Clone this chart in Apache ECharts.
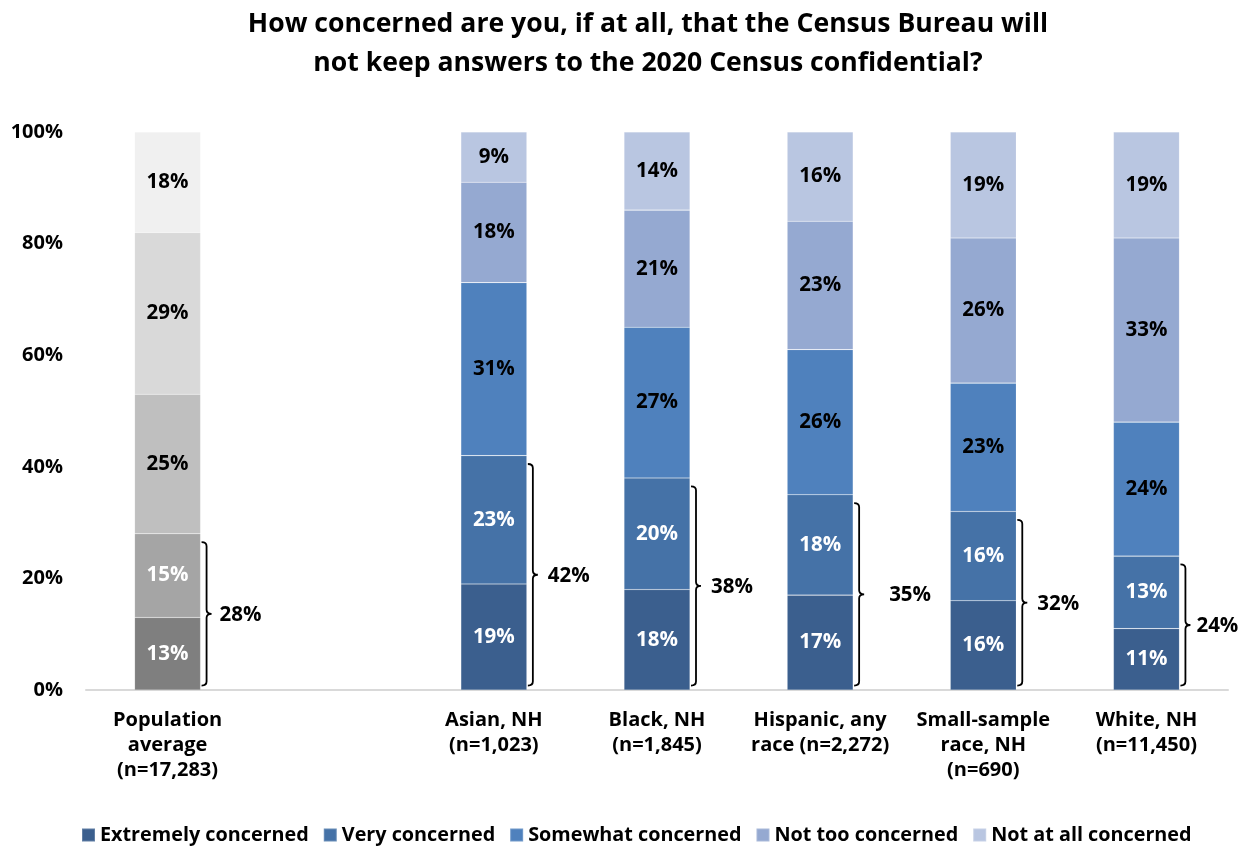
<!DOCTYPE html>
<html>
<head>
<meta charset="utf-8">
<script src="https://cdn.jsdelivr.net/npm/echarts@6/dist/echarts.min.js"></script>
<style>
html,body{margin:0;padding:0;background:#fff;}
#chart{width:1248px;height:848px;}
</style>
</head>
<body>
<div id="chart"></div>
<script>
const categories = ['Population\naverage\n(n=17,283)', '', 'Asian, NH\n(n=1,023)', 'Black, NH\n(n=1,845)', 'Hispanic, any\nrace (n=2,272)', 'Small-sample\nrace, NH\n(n=690)', 'White, NH\n(n=11,450)'];
const seriesNames = ['Extremely concerned', 'Very concerned', 'Somewhat concerned', 'Not too concerned', 'Not at all concerned'];
const extremely = [13, null, 19, 18, 17, 16, 11];
const very      = [15, null, 23, 20, 18, 16, 13];
const somewhat  = [25, null, 31, 27, 26, 23, 24];
const notToo    = [29, null, 18, 21, 23, 26, 33];
const notAtAll  = [18, null, 9, 14, 16, 19, 19];
const concernedTotals = [28, null, 42, 38, 35, 32, 24];
const yTicks = [0, 20, 40, 60, 80, 100];

const FONT = '"Open Sans"';
const blueColors = ['#3b5f8e', '#4572a7', '#4f81bd', '#95a9d1', '#b9c6e1'];
const greyColors = ['#7f7f7f', '#a5a5a5', '#bfbfbf', '#d9d9d9', '#f0f0f0'];
const labelColors = ['#ffffff', '#ffffff', '#000000', '#000000', '#000000'];
const bracketLabelGap = [13, 0, 15, 15, 30, 15, 11];

const values = [extremely, very, somewhat, notToo, notAtAll];

const barSeries = values.map((arr, si) => ({
  name: seriesNames[si],
  type: 'bar',
  stack: 'total',
  barWidth: 66,
  itemStyle: { color: blueColors[si], borderColor: 'rgba(255,255,255,0.2)', borderWidth: 0.6 },
  label: {
    show: true,
    position: 'inside',
    formatter: p => p.value == null ? '' : p.value + '%',
    color: labelColors[si],
    fontFamily: FONT,
    fontWeight: 'bold',
    fontSize: 20.5
  },
  data: arr.map((v, i) => i === 0 ? { value: v, itemStyle: { color: greyColors[si] } } : (v == null ? '-' : v))
}));

const bracketData = [];
concernedTotals.forEach((t, i) => { if (t != null) bracketData.push([i, t]); });

const bracketSeries = {
  type: 'custom',
  name: 'bracket',
  silent: true,
  z: 5,
  data: bracketData,
  renderItem: function (params, api) {
    const idx = api.value(0);
    const total = api.value(1);
    const top = api.coord([idx, total - 1.5]);
    const bot = api.coord([idx, 0.8]);
    const x = top[0] + 33 + 6;
    const yT = top[1], yB = bot[1];
    const yM = (yT + yB) / 2;
    const r = 4;
    const path = `M ${x - 5} ${yT} Q ${x} ${yT} ${x} ${yT + r} L ${x} ${yM - r} Q ${x} ${yM} ${x + 5} ${yM} Q ${x} ${yM} ${x} ${yM + r} L ${x} ${yB - r} Q ${x} ${yB} ${x - 5} ${yB}`;
    return {
      type: 'group',
      children: [
        {
          type: 'path',
          shape: { pathData: path },
          style: { fill: null, stroke: '#000', lineWidth: 1.8 }
        },
        {
          type: 'text',
          style: {
            x: x + bracketLabelGap[idx],
            y: yM + 1,
            text: total + '%',
            fill: '#000',
            font: 'bold 20.5px ' + FONT,
            textAlign: 'left',
            textVerticalAlign: 'middle'
          }
        }
      ]
    };
  }
};

const chart = echarts.init(document.getElementById('chart'), null, { renderer: 'canvas' });
chart.setOption({
  animation: false,
  backgroundColor: '#fff',
  title: {
    text: 'How concerned are you, if at all, that the Census Bureau will\nnot keep answers to the 2020 Census confidential?',
    left: 643,
    textAlign: 'center',
    top: 0,
    textStyle: { fontFamily: FONT, fontWeight: 'bold', fontSize: 26.6, color: '#000', lineHeight: 39 }
  },
  legend: {
    data: seriesNames,
    bottom: -2,
    left: 76,
    itemWidth: 13,
    itemHeight: 13,
    itemGap: 14,
    icon: 'rect',
    textStyle: { fontFamily: FONT, fontWeight: 'bold', fontSize: 19.8, color: '#000' }
  },
  grid: { left: 86, right: 20, top: 132, bottom: 158, containLabel: false },
  xAxis: {
    type: 'category',
    data: categories,
    axisLine: { lineStyle: { color: '#d9d9d9', width: 2 } },
    axisTick: { show: false },
    axisLabel: {
      interval: 0,
      fontFamily: FONT,
      fontWeight: 'bold',
      fontSize: 20,
      color: '#000',
      lineHeight: 25,
      margin: 18
    }
  },
  yAxis: {
    type: 'value',
    min: 0,
    max: 100,
    interval: 20,
    axisLine: { show: false },
    axisTick: { show: false },
    splitLine: { show: false },
    axisLabel: {
      formatter: v => yTicks.includes(v) ? v + '%' : '',
      fontFamily: FONT,
      fontWeight: 'bold',
      fontSize: 20,
      color: '#000',
      margin: 23
    }
  },
  series: [...barSeries, bracketSeries]
});
</script>
</body>
</html>
